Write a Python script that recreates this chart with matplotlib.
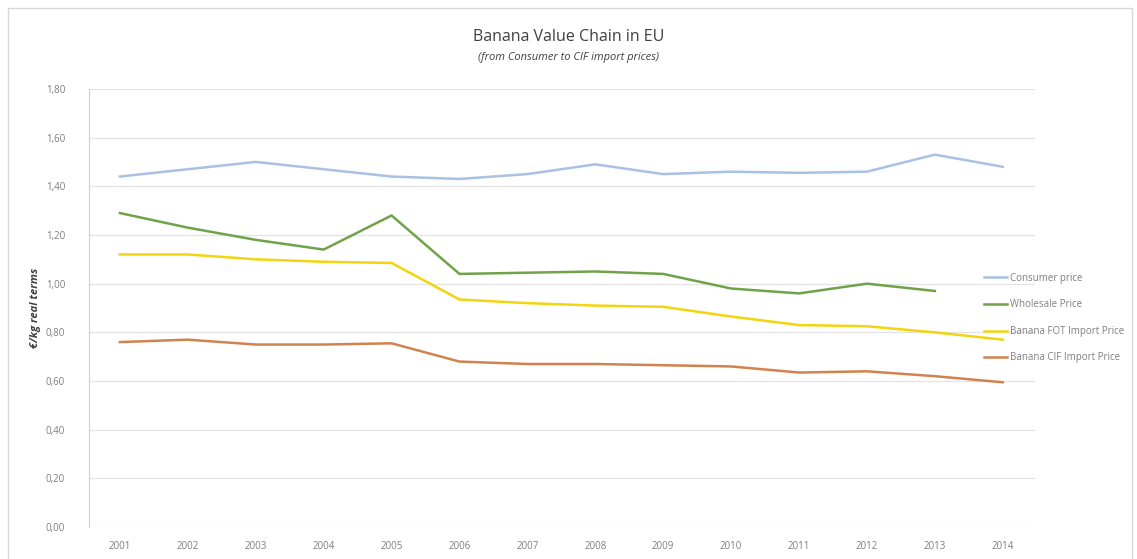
import matplotlib
matplotlib.use('Agg')
import matplotlib.pyplot as plt
from matplotlib.patches import Rectangle
from matplotlib.ticker import FuncFormatter

# data
years = ['2001', '2002', '2003', '2004', '2005', '2006', '2007',
         '2008', '2009', '2010', '2011', '2012', '2013', '2014']
consumer = [1.44, 1.47, 1.50, 1.47, 1.44, 1.43, 1.45, 1.49, 1.45, 1.46, 1.455, 1.46, 1.53, 1.48]
wholesale = [1.29, 1.23, 1.18, 1.14, 1.28, 1.04, 1.045, 1.05, 1.04, 0.98, 0.96, 1.00, 0.97]
fot = [1.12, 1.12, 1.10, 1.09, 1.085, 0.935, 0.92, 0.91, 0.905, 0.865, 0.83, 0.825, 0.80, 0.77]
cif = [0.76, 0.77, 0.75, 0.75, 0.755, 0.68, 0.67, 0.67, 0.665, 0.66, 0.635, 0.64, 0.62, 0.595]

series_names = ['Consumer price', 'Wholesale Price', 'Banana FOT Import Price', 'Banana CIF Import Price']
series_colors = ['#A9C1E3', '#6FA34A', '#F2D50F', '#D0834F']

plt.rcParams['font.family'] = ['Open Sans', 'DejaVu Sans']

fig = plt.figure(figsize=(11.37, 5.59), dpi=100)
ax = fig.add_axes([0.078, 0.057, 0.832, 0.784])

# chart frame
fig.patches.append(Rectangle((0.007, -0.01), 0.989, 0.995, transform=fig.transFigure,
                             fill=False, edgecolor='#D9D9D9', lw=1.0))

x = list(range(len(years)))
for name, vals, col in zip(series_names, [consumer, wholesale, fot, cif], series_colors):
    ax.plot(x[:len(vals)], vals, color=col, lw=1.8, label=name)

ax.set_xlim(-0.46, 13.47)
ax.set_ylim(0, 1.8)
ax.set_xticks(x)
ax.set_xticklabels(years)
ax.set_yticks([i * 0.2 for i in range(10)])
ax.yaxis.set_major_formatter(FuncFormatter(lambda v, p: '{:.2f}'.format(v).replace('.', ',')))
ax.grid(axis='y', color='#E3E3E3', lw=0.9)
ax.set_axisbelow(True)
for s in ['top', 'right', 'bottom']:
    ax.spines[s].set_visible(False)
ax.spines['left'].set_color('#D0D0D0')
ax.tick_params(length=0, labelsize=7, colors='#7F7F7F', pad=10)
ax.tick_params(axis='y', pad=17)

ax.set_ylabel('€/kg real terms', fontsize=8, fontstyle='italic', fontweight='bold',
              color='#404040')
ax.yaxis.set_label_coords(-0.05, 0.5)

fig.text(0.5, 0.934, 'Banana Value Chain in EU', ha='center', va='center',
         fontsize=11.5, color='#404040')
fig.text(0.5, 0.898, '(from Consumer to CIF import prices)', ha='center', va='center',
         fontsize=8, fontstyle='italic', color='#404040')

handles, labels = ax.get_legend_handles_labels()
leg = fig.legend(handles, labels, loc='upper left', bbox_to_anchor=(0.865, 0.512),
                 frameon=False, fontsize=7, handlelength=2.4, handletextpad=0.3,
                 labelspacing=1.6, borderaxespad=0, borderpad=0)
for t in leg.get_texts():
    t.set_color('#7F7F7F')

fig.savefig('out.png', dpi=100, facecolor='white')
